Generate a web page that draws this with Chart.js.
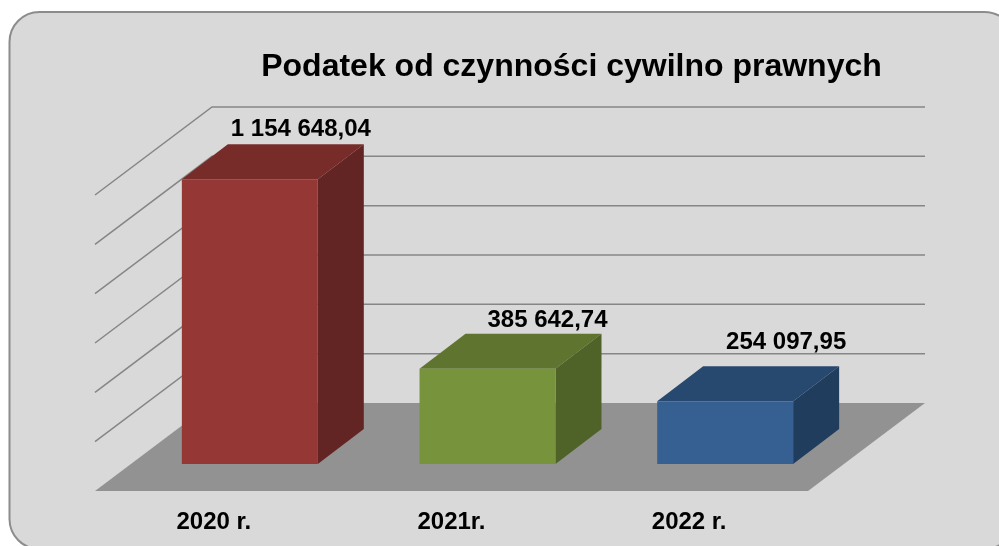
<!DOCTYPE html>
<html lang="pl">
<head>
<meta charset="utf-8">
<style>html,body{margin:0;padding:0;background:#fff}canvas{display:block}</style>
<script src="https://cdn.jsdelivr.net/npm/chart.js@4"></script>
</head>
<body>
<canvas id="c" width="999" height="546"></canvas>
<script>
const categories = ['2020 r.', '2021r.', '2022 r.'];
const values = [1154648.04, 385642.74, 254097.95];
const frontColors = ['#953735', '#77933C', '#376092'];
const topColors = ['#772C2A', '#5F752F', '#27486F'];
const sideColors = ['#632523', '#4F6228', '#213D5E'];
const FONT = '"Liberation Sans", Arial, sans-serif';
const floorDepth = {x: 117, y: -88};
const barShift = {x: 36, y: -27};
const barDepth = {x: 46, y: -35};
const labelShift = [{x: 51, y: -50}, {x: 60, y: -48}, {x: 61, y: -59}];

function fmt(v) {
  const p = v.toFixed(2).split('.');
  return p[0].replace(/\B(?=(\d{3})+(?!\d))/g, ' ') + ',' + p[1];
}
function poly(ctx, pts, fill) {
  ctx.beginPath();
  pts.forEach((p, i) => i ? ctx.lineTo(p[0], p[1]) : ctx.moveTo(p[0], p[1]));
  ctx.closePath();
  ctx.fillStyle = fill;
  ctx.fill();
}
const scene = {
  id: 'scene',
  beforeDraw(chart) {
    const ctx = chart.ctx;
    ctx.save();
    ctx.fillStyle = '#fff';
    ctx.fillRect(0, 0, chart.width, chart.height);
    ctx.beginPath();
    ctx.roundRect(9.5, 12, 1005, 537, 30);
    ctx.fillStyle = '#D9D9D9';
    ctx.fill();
    ctx.lineWidth = 2;
    ctx.strokeStyle = '#8C8C8C';
    ctx.stroke();
    ctx.restore();
  },
  afterLayout(chart) {
    const t = chart.titleBlock;
    t.left += 120;
    t.right += 120;
  },
  beforeDatasetsDraw(chart) {
    const ctx = chart.ctx, a = chart.chartArea, y = chart.scales.y;
    const d = floorDepth;
    ctx.save();
    poly(ctx, [[a.left, a.bottom], [a.right, a.bottom], [a.right + d.x, a.bottom + d.y], [a.left + d.x, a.bottom + d.y]], '#929292');
    ctx.strokeStyle = '#868686';
    ctx.lineWidth = 1.5;
    y.ticks.forEach(t => {
      if (t.value === 0) return;
      const py = y.getPixelForValue(t.value);
      ctx.beginPath();
      ctx.moveTo(a.left, py);
      ctx.lineTo(a.left + d.x, py + d.y);
      ctx.lineTo(a.right + d.x, py + d.y);
      ctx.stroke();
    });
    ctx.restore();
  },
  beforeDatasetDraw(chart, args) {
    const ctx = chart.ctx;
    ctx.save();
    ctx.translate(barShift.x, barShift.y);
    args.meta.data.forEach((b, i) => {
      const p = b.getProps(['x', 'y', 'base', 'width'], true);
      const l = p.x - p.width / 2, r = p.x + p.width / 2;
      const dx = barDepth.x, dy = barDepth.y;
      poly(ctx, [[l, p.y], [r, p.y], [r + dx, p.y + dy], [l + dx, p.y + dy]], topColors[i]);
      poly(ctx, [[r, p.y], [r + dx, p.y + dy], [r + dx, p.base + dy], [r, p.base]], sideColors[i]);
    });
  },
  afterDatasetDraw(chart) {
    chart.ctx.restore();
  },
  afterDatasetsDraw(chart) {
    const ctx = chart.ctx;
    const meta = chart.getDatasetMeta(0);
    ctx.save();
    ctx.fillStyle = '#000';
    ctx.font = 'bold 24px ' + FONT;
    ctx.textAlign = 'center';
    ctx.textBaseline = 'middle';
    meta.data.forEach((b, i) => {
      const p = b.getProps(['x', 'y'], true);
      ctx.fillText(fmt(values[i]), p.x + barShift.x + labelShift[i].x, p.y + barShift.y + labelShift[i].y);
    });
    ctx.restore();
  }
};
new Chart(document.getElementById('c'), {
  type: 'bar',
  data: {
    labels: categories,
    datasets: [{
      data: values,
      backgroundColor: frontColors,
      borderWidth: 0,
      barPercentage: 0.572,
      categoryPercentage: 1,
      clip: false
    }]
  },
  plugins: [scene],
  options: {
    responsive: false,
    animation: false,
    layout: {padding: {left: 95, right: 191, top: 49, bottom: 0}},
    plugins: {
      legend: {display: false},
      tooltip: {enabled: false},
      title: {
        display: true,
        text: 'Podatek od czynności cywilno prawnych',
        color: '#000',
        font: {family: FONT, size: 32, weight: 'bold', lineHeight: 1.125},
        padding: {top: 0, bottom: 110}
      }
    },
    scales: {
      x: {
        grid: {display: false, drawTicks: false},
        border: {display: false},
        afterFit(scale) { scale.height = 55; },
        ticks: {color: '#000', font: {family: FONT, size: 24, weight: 'bold'}, padding: 17, maxRotation: 0}
      },
      y: {
        display: false,
        min: 0,
        max: 1200000,
        ticks: {stepSize: 200000}
      }
    }
  }
});
</script>
</body>
</html>
